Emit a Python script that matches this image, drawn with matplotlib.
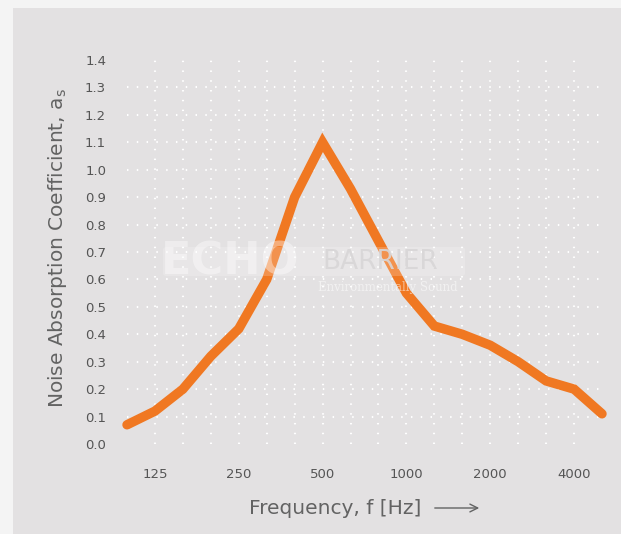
import matplotlib
matplotlib.use("Agg")
import matplotlib.pyplot as plt
from matplotlib.patches import Rectangle, FancyBboxPatch

# 1/3 octave band centre frequencies (Hz)
freqs = [100, 125, 160, 200, 250, 315, 400, 500, 630, 800,
         1000, 1250, 1600, 2000, 2500, 3150, 4000, 5000]
absorption = [0.07, 0.12, 0.20, 0.32, 0.42, 0.60, 0.90, 1.10, 0.93, 0.74,
              0.55, 0.43, 0.40, 0.36, 0.30, 0.23, 0.20, 0.11]
xtick_labels = ['125', '250', '500', '1000', '2000', '4000']
yticks = [round(0.1 * i, 1) for i in range(15)]

# couleurs
bg_outer = '#f4f4f4'
bg_panel = '#e3e1e2'
orange = '#f07822'
txt = '#555555'
txt_label = '#636363'

plt.rcParams['font.family'] = ['DejaVu Sans']

W, H = 621, 534
fig = plt.figure(figsize=(W / 100, H / 100), dpi=100)
fig.patch.set_facecolor(bg_outer)
fig.patches.append(Rectangle((13 / W, 0), 1, 1 - 8 / H, transform=fig.transFigure,
                             facecolor=bg_panel, edgecolor='none', zorder=-10))


def fx(px):
    return px / W


def fy(py):
    return 1 - py / H


ax = fig.add_axes([fx(127), fy(444), 475 / W, 384 / H])
ax.set_facecolor('none')
for s in ax.spines.values():
    s.set_visible(False)

n = len(freqs)
idx = list(range(n))
ax.set_xlim(0, n - 1)
ax.set_ylim(0, 1.4)

# grille pointillée blanche
for i in idx[1:-1]:
    ax.plot([i, i], [0, 1.4], color='white', lw=1.5, ls=(0, (0.7, 4.0)), zorder=1)
for y in yticks[1:-1]:
    ax.plot([0, n - 1], [y, y], color='white', lw=1.5, ls=(0, (0.7, 4.0)), zorder=1)

ax.plot(idx, absorption, color=orange, lw=6.8, solid_capstyle='round',
        solid_joinstyle='miter', zorder=3, clip_on=False)

# watermark (par dessus la courbe, semi transparent)
fig.patches.append(FancyBboxPatch((fx(163), fy(276)), fx(465) - fx(163), fy(247) - fy(276),
                                  boxstyle='round,pad=0,rounding_size=0.006',
                                  transform=fig.transFigure, facecolor='white',
                                  edgecolor='none', alpha=0.2, zorder=5))
fig.text(fx(161), fy(262), 'ECHO', fontsize=32, fontweight='bold', color='white',
         alpha=0.4, va='center', ha='left', zorder=6)
fig.text(fx(322), fy(262), 'BARRIER', fontsize=19, color='#d8d6d7',
         alpha=0.9, va='center', ha='left', zorder=6)
fig.text(fx(318), fy(288), 'Environmentally Sound', fontsize=8.5, family='DejaVu Serif',
         color='white', alpha=0.55, va='center', ha='left', zorder=6)

ax.set_xticks([1, 4, 7, 10, 13, 16])
ax.set_xticklabels(xtick_labels)
ax.set_yticks(yticks)
ax.set_yticklabels([f'{v:.1f}' for v in yticks])
ax.tick_params(length=0, colors=txt, labelsize=9.5)
ax.tick_params(axis='x', pad=17)
ax.tick_params(axis='y', pad=15)

ax.set_xlabel('Frequency, f [Hz]', fontsize=14.5, color=txt_label, va='center')
ax.xaxis.set_label_coords(fx(335), fy(508), transform=fig.transFigure)
ax.annotate('', xy=(fx(482), fy(508)), xytext=(fx(432), fy(508)),
            xycoords='figure fraction',
            arrowprops=dict(arrowstyle='->', color=txt_label, lw=1.0, mutation_scale=14))
ax.set_ylabel(r'Noise Absorption Coefficient, a$_\mathregular{s}$', fontsize=14.5,
              color=txt_label, va='center')
ax.yaxis.set_label_coords(fx(58), fy(248), transform=fig.transFigure)

fig.savefig('out.png', dpi=100, facecolor=fig.get_facecolor())
